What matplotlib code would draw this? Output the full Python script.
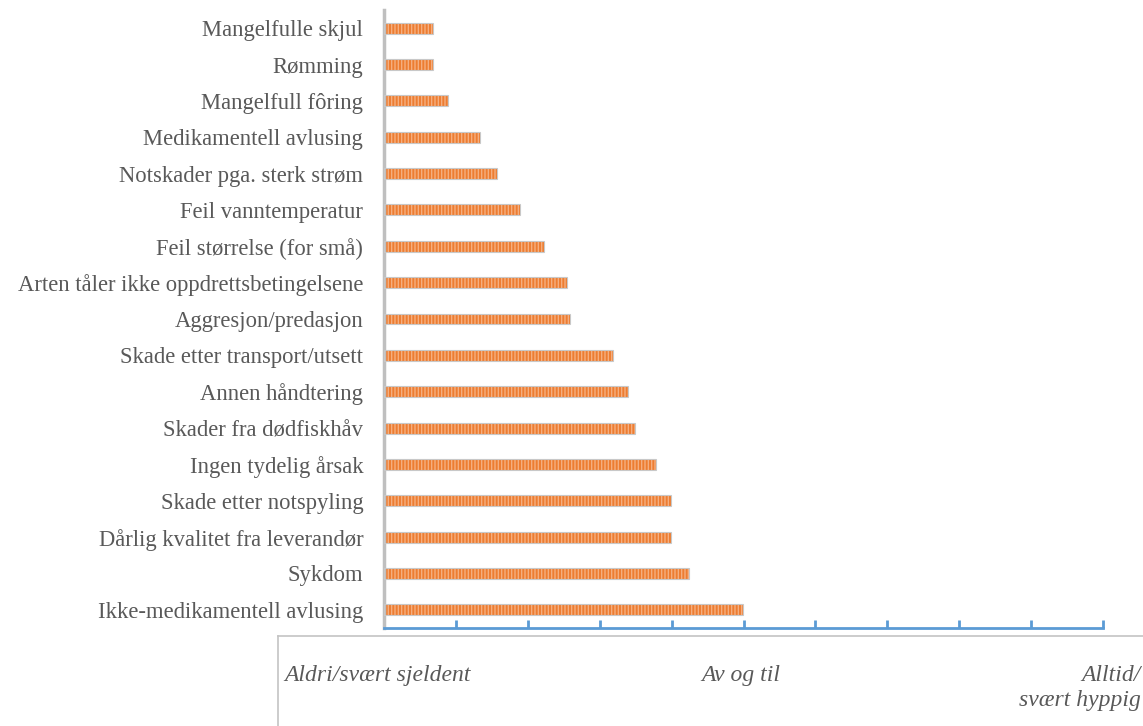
import matplotlib.pyplot as plt
from matplotlib.lines import Line2D

plt.rcParams["hatch.linewidth"] = 1.0
plt.rcParams["hatch.color"] = "#F5AE7F"

causes = [
    "Mangelfulle skjul",
    "Rømming",
    "Mangelfull fôring",
    "Medikamentell avlusing",
    "Notskader pga. sterk strøm",
    "Feil vanntemperatur",
    "Feil størrelse (for små)",
    "Arten tåler ikke oppdrettsbetingelsene",
    "Aggresjon/predasjon",
    "Skade etter transport/utsett",
    "Annen håndtering",
    "Skader fra dødfiskhåv",
    "Ingen tydelig årsak",
    "Skade etter notspyling",
    "Dårlig kvalitet fra leverandør",
    "Sykdom",
    "Ikke-medikamentell avlusing",
]
scores = [0.68, 0.68, 0.89, 1.33, 1.57, 1.89, 2.22, 2.54, 2.58,
          3.19, 3.39, 3.49, 3.78, 3.99, 3.99, 4.24, 4.99]

scale_labels = ["Aldri/svært sjeldent", "Av og til", "Alltid/\nsvært hyppig"]

text_grey = "#595959"
blue = "#5B9BD5"

fig = plt.figure(figsize=(11.43, 7.26), dpi=100)
ax = fig.add_axes([384 / 1143, 98 / 726, (1103 - 384) / 1143, (716 - 98) / 726])

ypos = list(range(len(causes)))[::-1]
# striped fill, then a thin grey outline on top
ax.barh(ypos, scores, height=0.3, color="#ED7D31", edgecolor="#F5AE7F",
        hatch="|||||", linewidth=0, zorder=2)
ax.barh(ypos, scores, height=0.3, fill=False, edgecolor="#C8C8C8",
        linewidth=0.8, zorder=3)

ax.set_xlim(0, 10)
ax.set_ylim(-0.5, len(causes) - 0.5)
ax.set_xticks(range(0, 11))
ax.set_xticklabels([])
ax.set_yticks(ypos)
ax.set_yticklabels(causes, family="Liberation Serif", fontsize=16.3,
                   color=text_grey)

ax.spines[["top", "right"]].set_visible(False)
ax.spines["left"].set_color("#BFBFBF")
ax.spines["left"].set_linewidth(2.5)
ax.spines["bottom"].set_color(blue)
ax.spines["bottom"].set_linewidth(2)
ax.tick_params(axis="x", direction="in", length=6, width=2, color=blue)
ax.tick_params(axis="y", length=0, pad=15)

# box holding the scale description
fig.add_artist(Line2D([278 / 1143, 1.0], [90 / 726, 90 / 726],
                      color="#C4C4C4", lw=1.2))
fig.add_artist(Line2D([278 / 1143, 278 / 1143], [0, 90 / 726],
                      color="#C4C4C4", lw=1.2))

font = dict(family="Liberation Serif", style="italic", fontsize=17,
            color=text_grey)
fig.text(284 / 1143, 51 / 726, scale_labels[0], ha="left", va="center", **font)
fig.text(741 / 1143, 51 / 726, scale_labels[1], ha="center", va="center", **font)
fig.text(1141 / 1143, 38 / 726, scale_labels[2], ha="right", va="center",
         linespacing=1.25, **font)

fig.savefig("out.png", dpi=100)
